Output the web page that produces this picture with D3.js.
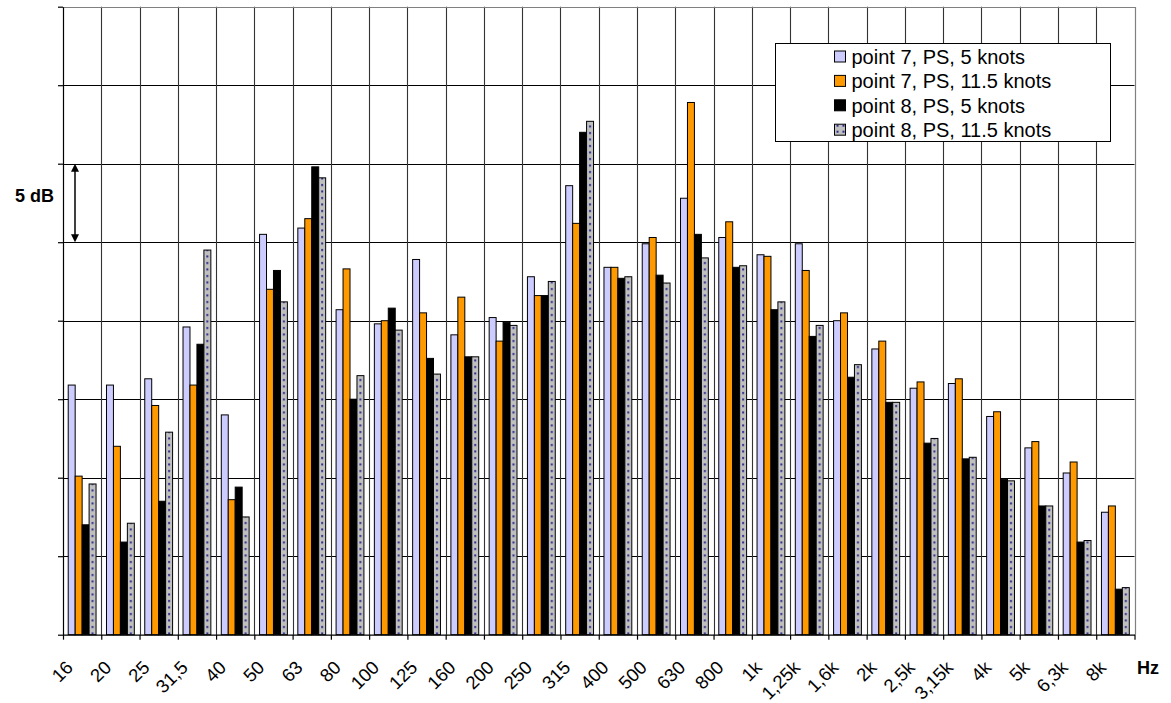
<!DOCTYPE html>
<html>
<head>
<meta charset="utf-8">
<script src="https://cdn.jsdelivr.net/npm/d3@7"></script>
<style>
  html, body { margin: 0; padding: 0; background: #fff; }
  svg { display: block; font-family: "Liberation Sans", Arial, sans-serif; }
</style>
</head>
<body>
<svg id="chart"></svg>
<script>
// third-octave bands
const categories = ["16", "20", "25", "31,5", "40", "50", "63", "80", "100", "125", "160", "200", "250", "315",
  "400", "500", "630", "800", "1k", "1,25k", "1,6k", "2k", "2,5k", "3,15k", "4k", "5k", "6,3k", "8k"];

const seriesNames = ["point 7, PS, 5 knots", "point 7, PS, 11.5 knots", "point 8, PS, 5 knots", "point 8, PS, 11.5 knots"];

// levels in dB above the chart floor (grid step is 5 dB)
const point7Slow = [15.9, 15.9, 16.3, 19.6, 14.0, 25.5, 25.9, 20.7, 19.8, 23.9, 19.1, 20.2, 22.8, 28.6,
  23.4, 24.9, 27.8, 25.3, 24.2, 24.9, 20.0, 18.2, 15.7, 16.0, 13.9, 11.9, 10.3, 7.8];
const point7Fast = [10.1, 12.0, 14.6, 15.9, 8.6, 22.0, 26.5, 23.3, 20.0, 20.5, 21.5, 18.7, 21.6, 26.2,
  23.4, 25.3, 33.9, 26.3, 24.1, 23.2, 20.5, 18.7, 16.1, 16.3, 14.2, 12.3, 11.0, 8.2];
const point8Slow = [7.0, 5.9, 8.5, 18.5, 9.4, 23.2, 29.8, 15.0, 20.8, 17.6, 17.7, 19.9, 21.6, 32.0,
  22.7, 22.9, 25.5, 23.4, 20.7, 19.0, 16.4, 14.8, 12.2, 11.2, 9.9, 8.2, 5.9, 2.9];
const point8Fast = [9.6, 7.1, 12.9, 24.5, 7.5, 21.2, 29.1, 16.5, 19.4, 16.6, 17.7, 19.7, 22.5, 32.7,
  22.8, 22.4, 24.0, 23.5, 21.2, 19.7, 17.2, 14.8, 12.5, 11.3, 9.8, 8.2, 6.0, 3.0];

const gridValues = [0, 5, 10, 15, 20, 25, 30, 35, 40];

const seriesValues = [point7Slow, point7Fast, point8Slow, point8Fast];
const seriesFills = ["#ccccff", "#ff9900", "#000000", "url(#dots)"];

const width = 1171;
const height = 703;
const margin = { top: 6.7, right: 36.5, bottom: 68.3, left: 63 };

const svg = d3.select("#chart").attr("width", width).attr("height", height);

const x = d3.scaleBand()
  .domain(categories)
  .range([margin.left, width - margin.right])
  .paddingInner(0)
  .paddingOuter(0);

const xSub = d3.scaleBand()
  .domain(d3.range(seriesNames.length))
  .range([0, x.bandwidth()])
  .paddingInner(0)
  .paddingOuter(0.75);

const xEdge = d3.scaleLinear()
  .domain([0, categories.length])
  .range(x.range());

const y = d3.scaleLinear()
  .domain([0, 40])
  .range([height - margin.bottom, margin.top]);

function crisp(v) {
  return Math.round(v) + 0.5;
}

// dotted fill for the last series (pattern space = each category group)
const defs = svg.append("defs");
const dots = defs.append("pattern")
  .attr("id", "dots")
  .attr("patternUnits", "userSpaceOnUse")
  .attr("x", 0)
  .attr("y", 0)
  .attr("width", x.step())
  .attr("height", 6.5);
dots.append("rect").attr("width", x.step()).attr("height", 6.5).attr("fill", "#c0c0c0");
dots.append("rect")
  .attr("x", xSub(3) + xSub.bandwidth() / 2 - 1)
  .attr("y", 2)
  .attr("width", 2)
  .attr("height", 2)
  .attr("fill", "#2a2a8c");

const dotsSmall = defs.append("pattern")
  .attr("id", "dotsSmall")
  .attr("patternUnits", "userSpaceOnUse")
  .attr("width", 6)
  .attr("height", 6);
dotsSmall.append("rect").attr("width", 6).attr("height", 6).attr("fill", "#c0c0c0");
dotsSmall.append("rect").attr("x", 1).attr("y", 1).attr("width", 2).attr("height", 2).attr("fill", "#2a2a8c");

// grid
svg.append("g")
  .selectAll("line")
  .data(gridValues.slice(1, -1))
  .join("line")
  .attr("x1", x.range()[0])
  .attr("x2", x.range()[1])
  .attr("y1", function (d) { return crisp(y(d)); })
  .attr("y2", function (d) { return crisp(y(d)); })
  .attr("stroke", "#000")
  .attr("stroke-width", 1.2);

svg.append("g")
  .selectAll("line")
  .data(d3.range(1, categories.length))
  .join("line")
  .attr("x1", function (d) { return crisp(xEdge(d)); })
  .attr("x2", function (d) { return crisp(xEdge(d)); })
  .attr("y1", y(40))
  .attr("y2", y(0))
  .attr("stroke", "#333")
  .attr("stroke-width", 1.1);

// plot border (top / right)
svg.append("path")
  .attr("d", "M" + x.range()[0] + "," + crisp(y(40)) + "H" + crisp(x.range()[1]) + "V" + y(0))
  .attr("fill", "none")
  .attr("stroke", "#808080")
  .attr("stroke-width", 1.2);

// bars
const groups = svg.append("g")
  .selectAll("g")
  .data(categories)
  .join("g")
  .attr("transform", function (d) { return "translate(" + x(d) + ",0)"; });

groups.selectAll("rect")
  .data(function (d, i) {
    return seriesValues.map(function (values, s) { return { s: s, v: values[i] }; });
  })
  .join("rect")
  .attr("x", function (d) { return xSub(d.s); })
  .attr("y", function (d) { return y(d.v); })
  .attr("width", xSub.bandwidth())
  .attr("height", function (d) { return y(0) - y(d.v); })
  .attr("fill", function (d) { return seriesFills[d.s]; })
  .attr("stroke", "#000")
  .attr("stroke-width", 1);

// axes
const yAxis = svg.append("g")
  .attr("transform", "translate(" + x.range()[0] + ",0)")
  .call(d3.axisLeft(y).tickValues(gridValues).tickFormat("").tickSize(5).tickSizeOuter(0));
yAxis.selectAll("path, line").attr("stroke", "#000").attr("stroke-width", 1.2);

const xAxis = svg.append("g")
  .attr("transform", "translate(0," + y(0) + ")")
  .call(d3.axisBottom(xEdge).tickValues(d3.range(categories.length + 1)).tickFormat("").tickSize(5).tickSizeOuter(0));
xAxis.selectAll("path, line").attr("stroke", "#000").attr("stroke-width", 1.2);

svg.append("g")
  .selectAll("text")
  .data(categories)
  .join("text")
  .attr("transform", function (d) {
    return "translate(" + (x(d) + x.bandwidth() / 2 - 8) + "," + (y(0) + 34) + ") rotate(-45)";
  })
  .attr("text-anchor", "end")
  .style("font-size", "18.5px")
  .style("fill", "#000")
  .text(function (d) { return d; });

svg.append("text")
  .attr("x", 1137)
  .attr("y", y(0) + 39)
  .style("font-size", "18px")
  .style("font-weight", "bold")
  .text("Hz");

// 5 dB scale marker
const arrowX = x.range()[0] + 12;
svg.append("line")
  .attr("x1", arrowX)
  .attr("x2", arrowX)
  .attr("y1", y(30) + 6)
  .attr("y2", y(25) - 6)
  .attr("stroke", "#000")
  .attr("stroke-width", 1.5);
svg.append("path")
  .attr("d", "M" + arrowX + "," + y(30) + "l-4,8h8z")
  .attr("fill", "#000");
svg.append("path")
  .attr("d", "M" + arrowX + "," + y(25) + "l-4,-8h8z")
  .attr("fill", "#000");
svg.append("text")
  .attr("x", 54)
  .attr("y", 202)
  .attr("text-anchor", "end")
  .style("font-size", "18px")
  .style("font-weight", "bold")
  .text("5 dB");

// legend
const legend = svg.append("g").attr("transform", "translate(775.5,43.5)");
legend.append("rect")
  .attr("width", 335)
  .attr("height", 98)
  .attr("fill", "#fff")
  .attr("stroke", "#000")
  .attr("stroke-width", 1);

const legendFills = ["#ccccff", "#ff9900", "#000000", "url(#dotsSmall)"];
const items = legend.selectAll("g")
  .data(seriesNames)
  .join("g")
  .attr("transform", function (d, i) { return "translate(0," + (13 + i * 24.4) + ")"; });

items.append("rect")
  .attr("x", 59)
  .attr("y", -5.5)
  .attr("width", 11)
  .attr("height", 11)
  .attr("fill", function (d, i) { return legendFills[i]; })
  .attr("stroke", "#000")
  .attr("stroke-width", 1);

items.append("text")
  .attr("x", 76)
  .attr("dy", "0.36em")
  .style("font-size", "20px")
  .text(function (d) { return d; });
</script>
</body>
</html>
